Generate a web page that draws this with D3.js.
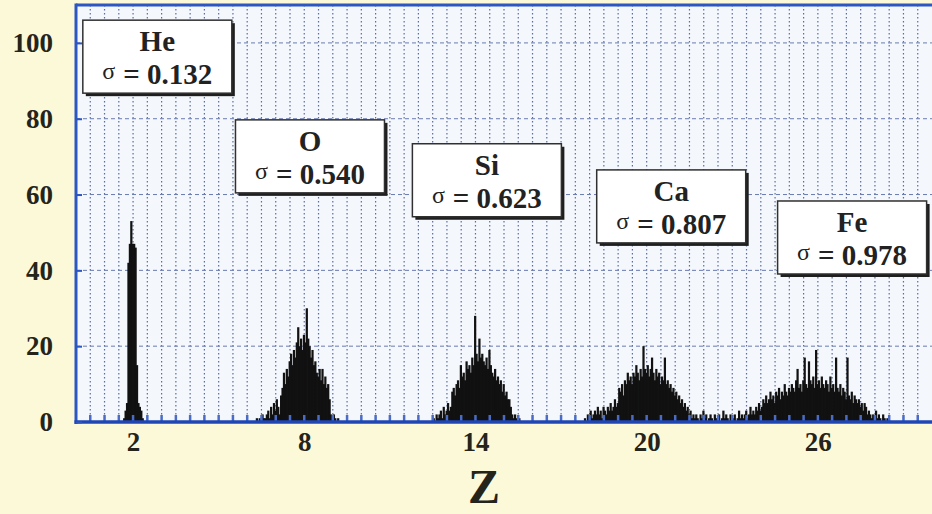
<!DOCTYPE html>
<html>
<head>
<meta charset="utf-8">
<script src="https://cdn.jsdelivr.net/npm/d3@7"></script>
<style>
    body { margin: 0; background: #fcf9d9; }
    #chart { width: 932px; height: 514px; }
</style>
</head>
<body>
<div id="chart"></div>
<script>
// histogram bins, width 0.05 in Z, each peak listed from its first bin
const binWidth = 0.05;

const heStart = 1.65;
const heCounts = [1, 3, 5, 42, 47, 53, 47, 47, 46, 15, 5, 4, 3, 1];

const oStart = 6.30;
const oCounts = [1, 0, 1, 0, 2, 1, 1, 2, 3, 1, 4, 2, 5, 3, 6, 4, 2, 7, 9, 13,
    10, 14, 12, 16, 18, 15, 19, 17, 21, 25, 20, 22, 19, 23, 21, 30, 22, 20, 17, 19,
    15, 16, 13, 12, 14, 11, 14, 10, 12, 9, 10, 6, 2, 1, 2, 1, 0, 1];

const siStart = 12.50;
const siCounts = [1, 0, 2, 1, 2, 3, 1, 4, 2, 3, 5, 3, 4, 8, 9, 7, 10, 11, 9, 15,
    12, 13, 11, 16, 14, 15, 13, 17, 15, 28, 18, 16, 22, 17, 18, 16, 15, 17, 14, 19,
    15, 13, 12, 14, 11, 12, 10, 11, 8, 10, 7, 8, 6, 6, 4, 2, 1, 2, 1, 0, 1];

const caStart = 17.80;
const caCounts = [1, 0, 2, 1, 3, 1, 2, 3, 2, 4, 2, 3, 1, 4, 3, 2, 4, 3, 5, 3,
    4, 6, 4, 5, 9, 8, 10, 7, 11, 10, 13, 11, 12, 10, 13, 12, 15, 13, 11, 14,
    12, 20, 14, 13, 15, 12, 14, 17, 13, 11, 14, 12, 13, 10, 12, 11, 17, 10, 11, 9,
    10, 8, 9, 7, 8, 6, 7, 5, 6, 4, 5, 3, 4, 2, 3, 1, 2];

const feStart = 21.65;
const feCounts = [1, 2, 1, 0, 2, 1, 3, 1, 2, 0, 1, 2, 1, 0, 2, 1, 1, 2, 0, 1,
    3, 1, 2, 1, 0, 2, 1, 1, 2, 0, 1, 3, 1, 2, 1, 2, 3, 1, 2, 4,
    2, 3, 2, 4, 3, 5, 3,
    4, 6, 5, 7, 5, 6, 8, 6, 7, 5, 8, 7, 9, 6, 8, 7, 10, 8, 7, 9,
    8, 10, 9, 8, 11, 14, 9, 10, 8, 11, 17, 10, 9, 16, 11, 10, 12, 9, 19, 10,
    11, 9, 12, 10, 9, 11, 10, 8, 12, 9, 10, 8, 17, 9, 8, 10, 7, 9, 8, 6,
    17, 7, 6, 8, 5, 7, 6, 5, 6, 4, 5, 3, 5, 4, 2, 3, 2, 1, 2, 1,
    3, 1, 2, 1, 0, 2, 1, 0, 1];

const xTicks = [2, 8, 14, 20, 26];
const yTicks = [0, 20, 40, 60, 80, 100];

const elements = ["He", "O", "Si", "Ca", "Fe"];
const sigmas = ["0.132", "0.540", "0.623", "0.807", "0.978"];

// flatten peaks into bins
let peaks = [
    {start: heStart, counts: heCounts},
    {start: oStart, counts: oCounts},
    {start: siStart, counts: siCounts},
    {start: caStart, counts: caCounts},
    {start: feStart, counts: feCounts}
];
let bins = [];
peaks.forEach(p => {
    p.counts.forEach((c, i) => {
        bins.push({z: p.start + i * binWidth, count: c});
    });
});

const W = 932, H = 514;
const blue = "#2c56c2";
const font = "'Liberation Serif', 'Times New Roman', serif";

let svg = d3.select("#chart").append("svg")
    .attr("width", W)
    .attr("height", H);

svg.append("rect")
    .attr("width", W)
    .attr("height", H)
    .attr("fill", "#fcf9d9");

let x = d3.scaleLinear().domain([0, 30]).range([76, 932]);
let y = d3.scaleLinear().domain([0, 110]).range([422, 5]);

// plot background
svg.append("rect")
    .attr("x", x(0))
    .attr("y", y(110))
    .attr("width", x(30) - x(0))
    .attr("height", y(0) - y(110))
    .attr("fill", "#f4f7fb");

// vertical grid every 0.5
svg.append("g")
    .selectAll("line")
    .data(d3.range(0.5, 30, 0.5))
    .enter().append("line")
    .attr("x1", d => x(d))
    .attr("x2", d => x(d))
    .attr("y1", y(110))
    .attr("y2", y(0))
    .attr("stroke", "#5a6ca8")
    .attr("stroke-width", 1.2)
    .attr("stroke-dasharray", "1.5,2.5");

// horizontal grid
svg.append("g")
    .selectAll("line")
    .data(yTicks.filter(d => d > 0))
    .enter().append("line")
    .attr("x1", x(0))
    .attr("x2", x(30))
    .attr("y1", d => y(d))
    .attr("y2", d => y(d))
    .attr("stroke", "#6a7bb0")
    .attr("stroke-width", 1)
    .attr("stroke-dasharray", "4,3");

// histogram bars
svg.append("g")
    .selectAll("rect")
    .data(bins.filter(d => d.count > 0))
    .enter().append("rect")
    .attr("x", d => x(d.z))
    .attr("width", d => x(d.z + binWidth) - x(d.z) + 0.8)
    .attr("y", d => y(d.count))
    .attr("height", d => y(0) - y(d.count))
    .attr("fill", "#111");

// small inward ticks along the bottom
svg.append("g")
    .selectAll("line")
    .data(d3.range(0.5, 30, 0.5))
    .enter().append("line")
    .attr("x1", d => x(d))
    .attr("x2", d => x(d))
    .attr("y1", y(0))
    .attr("y2", y(0) - 7)
    .attr("stroke", "#4a6cc4")
    .attr("stroke-width", 2.5);

// borders
svg.append("line")
    .attr("x1", x(0)).attr("x2", W)
    .attr("y1", y(110)).attr("y2", y(110))
    .attr("stroke", blue).attr("stroke-width", 3);
svg.append("line")
    .attr("x1", x(0)).attr("x2", x(0))
    .attr("y1", y(110) - 1.5).attr("y2", y(0) + 2)
    .attr("stroke", blue).attr("stroke-width", 3);
svg.append("line")
    .attr("x1", x(0) - 1.5).attr("x2", W)
    .attr("y1", y(0)).attr("y2", y(0))
    .attr("stroke", "#1f46b4").attr("stroke-width", 3.5);

// axes
let yAxis = svg.append("g")
    .attr("transform", `translate(${x(0)},0)`)
    .call(d3.axisLeft(y).tickValues(yTicks).tickSize(-6).tickPadding(23));
yAxis.select(".domain").remove();
yAxis.selectAll("line").attr("stroke", blue).attr("stroke-width", 2);
yAxis.selectAll("text")
    .attr("font-family", font)
    .attr("font-weight", "bold")
    .attr("font-size", 27)
    .attr("fill", "#24241a");

let xAxis = svg.append("g")
    .attr("transform", `translate(0,${y(0)})`)
    .call(d3.axisBottom(x).tickValues(xTicks).tickSize(0).tickPadding(10));
xAxis.select(".domain").remove();
xAxis.selectAll("text")
    .attr("font-family", font)
    .attr("font-weight", "bold")
    .attr("font-size", 27)
    .attr("fill", "#24241a");

svg.append("text")
    .attr("x", 484)
    .attr("y", 503)
    .attr("text-anchor", "middle")
    .attr("font-family", font)
    .attr("font-weight", "bold")
    .attr("font-size", 48)
    .attr("fill", "#24241a")
    .text("Z");

// label boxes (centre in Z, top in counts)
const boxZ = [2.85, 8.2, 14.4, 20.86, 27.2];
const boxTop = [106, 79.7, 73.4, 66.5, 58.3];
const boxW = 149, boxH = 73;

elements.forEach((el, i) => {
    let cx = x(boxZ[i]);
    let top = y(boxTop[i]);
    let g = svg.append("g").attr("transform", `translate(${cx - boxW / 2},${top})`);

    g.append("rect")
        .attr("x", 3).attr("y", 3)
        .attr("width", boxW).attr("height", boxH)
        .attr("fill", "#1e1e1e");
    g.append("rect")
        .attr("width", boxW).attr("height", boxH)
        .attr("fill", "#ffffff")
        .attr("stroke", "#303030")
        .attr("stroke-width", 1.5);

    g.append("text")
        .attr("x", boxW / 2)
        .attr("y", 31)
        .attr("text-anchor", "middle")
        .attr("font-family", font)
        .attr("font-weight", "bold")
        .attr("font-size", 29)
        .attr("fill", "#222")
        .text(el);

    let t = g.append("text")
        .attr("x", boxW / 2)
        .attr("y", 64)
        .attr("text-anchor", "middle")
        .attr("font-family", font)
        .attr("fill", "#222");
    t.append("tspan")
        .attr("font-size", 24)
        .attr("dy", -5)
        .text("σ");
    t.append("tspan")
        .attr("font-size", 29)
        .attr("font-weight", "bold")
        .attr("dy", 5)
        .attr("dx", 8)
        .text("= " + sigmas[i]);
});
</script>
</body>
</html>
